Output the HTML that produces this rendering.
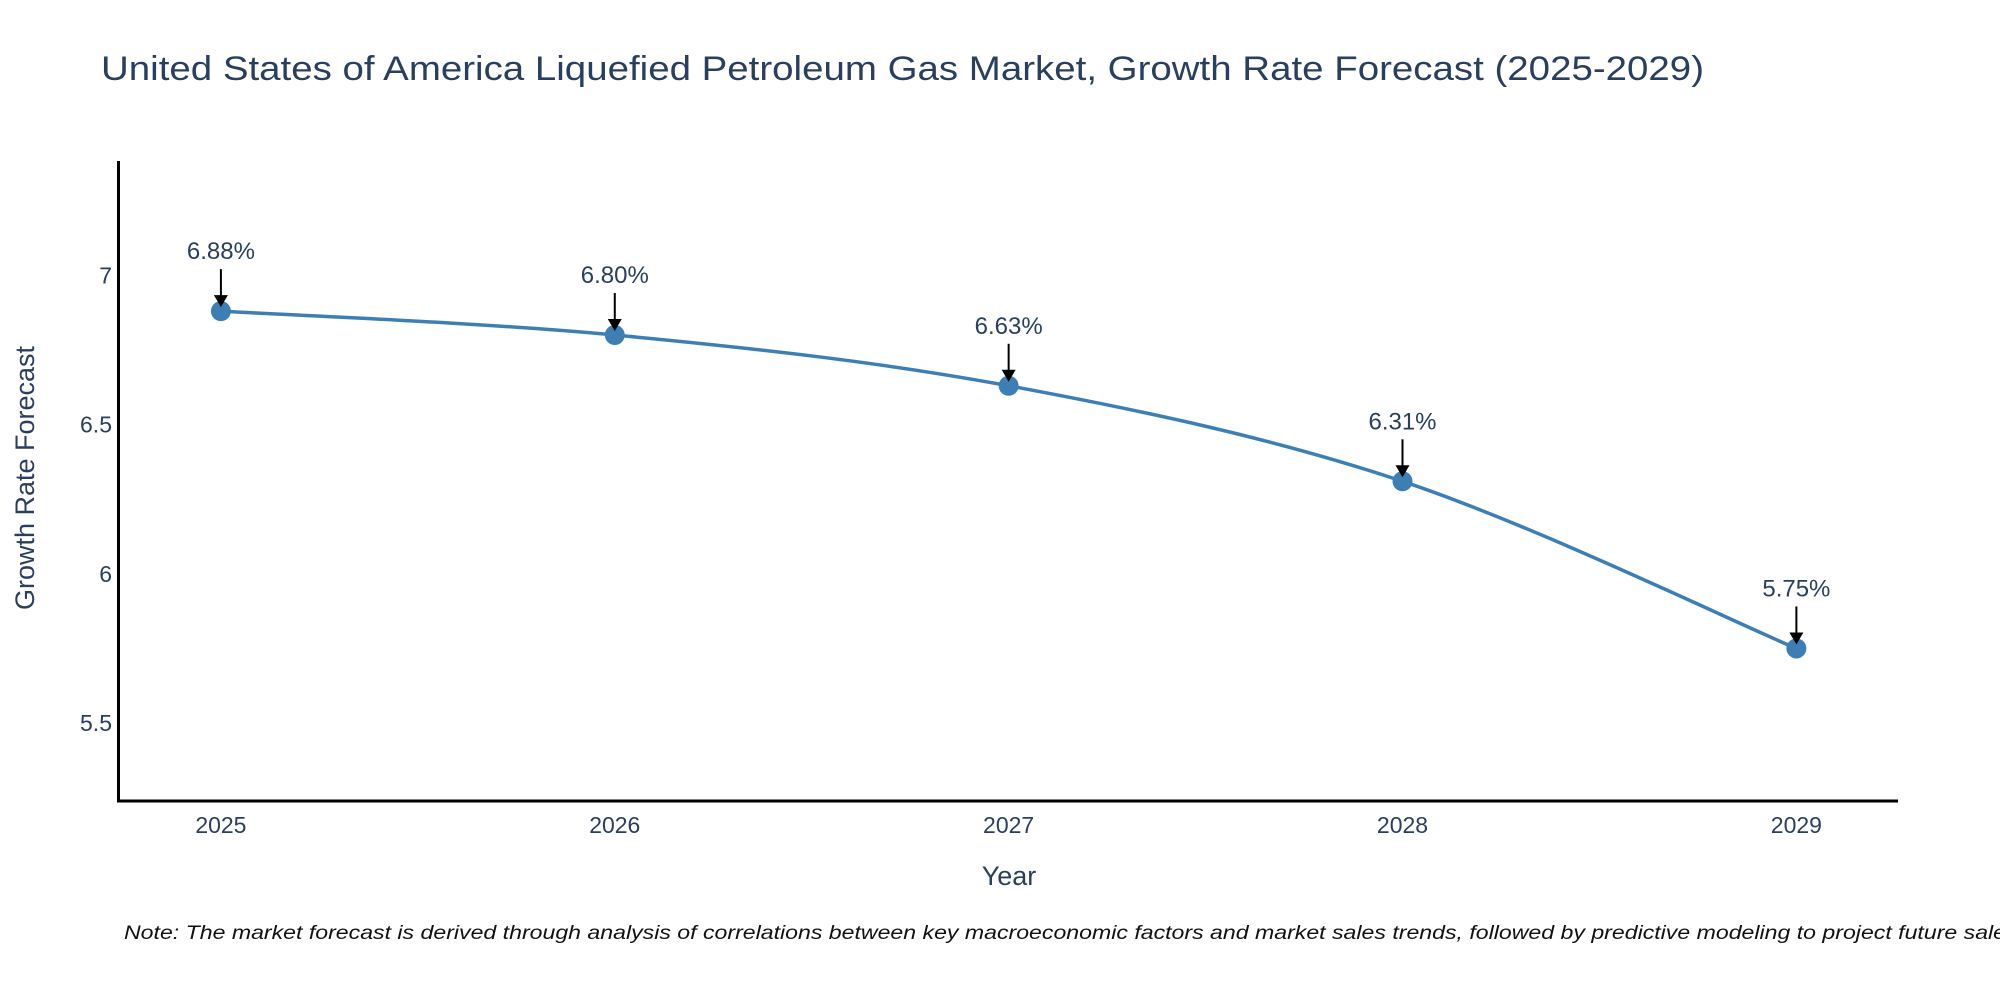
<!DOCTYPE html>
<html><head><meta charset="utf-8"><style>html,body{margin:0;padding:0;background:#fff;}svg{display:block;font-family:"Liberation Sans","DejaVu Sans",sans-serif;}</style></head>
<body>
<svg id="chart" width="2000" height="1000" viewBox="0 0 2000 1000" xmlns="http://www.w3.org/2000/svg">
<rect width="2000" height="1000" fill="#fff"/>
<text x="101" y="80" font-size="34" fill="#2a3f5f" textLength="1603" lengthAdjust="spacingAndGlyphs">United States of America Liquefied Petroleum Gas Market, Growth Rate Forecast (2025-2029)</text>
<g id="plot"></g>
<text transform="translate(34,478) rotate(-90)" text-anchor="middle" font-size="27" fill="#2a3f5f">Growth Rate Forecast</text>
<text x="1009" y="885" text-anchor="middle" font-size="27" fill="#2a3f5f">Year</text>
<text x="124" y="939" font-size="19" font-style="italic" fill="#111" textLength="1900" lengthAdjust="spacingAndGlyphs">Note: The market forecast is derived through analysis of correlations between key macroeconomic factors and market sales trends, followed by predictive modeling to project future sales.</text>
</svg>
<script>
const years = [2025, 2026, 2027, 2028, 2029];
const growthValues = [6.88, 6.80, 6.63, 6.31, 5.75];
const valueLabels = ["6.88%", "6.80%", "6.63%", "6.31%", "5.75%"];
const yTickValues = [5.5, 6, 6.5, 7];
const yTickLabels = ["5.5", "6", "6.5", "7"];

const NS = "http://www.w3.org/2000/svg";
const plotG = document.getElementById("plot");
const plotLeft = 118.5, plotRight = 1898, plotTop = 161, plotBottom = 801;
const xMin = 2024.74, xMax = 2029.258;
const yMin = 5.239, yMax = 7.383;
function xs(v){ return plotLeft + (v - xMin) / (xMax - xMin) * (plotRight - plotLeft); }
function ys(v){ return plotBottom - (v - yMin) / (yMax - yMin) * (plotBottom - plotTop); }
function mk(tag, attrs){ const e = document.createElementNS(NS, tag); for (const k in attrs) e.setAttribute(k, attrs[k]); plotG.appendChild(e); return e; }

yTickValues.forEach((v, i) => {
  const t = mk("text", {x: 112, y: ys(v) + 8, "text-anchor": "end", "font-size": "23", fill: "#2a3f5f"});
  
  
  t.textContent = yTickLabels[i];
});
years.forEach(y => {
  const t = mk("text", {x: xs(y), y: 833, "text-anchor": "middle", "font-size": "23", fill: "#2a3f5f"});
  
  
  t.textContent = String(y);
});
const ya = mk("line", {x1: plotLeft, y1: plotTop, x2: plotLeft, y2: plotBottom + 1.5, stroke: "#000", "stroke-width": "3"});


const xa = mk("line", {x1: plotLeft - 1.5, y1: plotBottom, x2: plotRight, y2: plotBottom, stroke: "#000", "stroke-width": "3"});



const pts = years.map((y, i) => [xs(y), ys(growthValues[i])]);
let d = "M" + pts[0][0] + "," + pts[0][1];
const s = 1/6;
for (let i = 0; i < pts.length - 1; i++) {
  const p0 = pts[Math.max(0, i - 1)], p1 = pts[i], p2 = pts[i + 1], p3 = pts[Math.min(pts.length - 1, i + 2)];
  const c1 = [p1[0] + (p2[0] - p0[0]) * s, p1[1] + (p2[1] - p0[1]) * s];
  const c2 = [p2[0] - (p3[0] - p1[0]) * s, p2[1] - (p3[1] - p1[1]) * s];
  d += " C" + c1[0] + "," + c1[1] + " " + c2[0] + "," + c2[1] + " " + p2[0] + "," + p2[1];
}
const line = mk("path", {d: d, fill: "none", stroke: "#3d7fb5", "stroke-width": "3.5"});



pts.forEach((p, i) => {
  const c = mk("circle", {cx: p[0], cy: p[1], r: 10, fill: "#3d7fb5"});
  
  
  const a = mk("line", {x1: p[0], y1: p[1] - 42, x2: p[0], y2: p[1] - 14, stroke: "#000", "stroke-width": "2"});
  
  
  const h = mk("path", {d: `M${p[0]-7},${p[1]-16} L${p[0]+7},${p[1]-16} L${p[0]},${p[1]-4} Z`, fill: "#000"});
  
  
  const t = mk("text", {x: p[0], y: p[1] - 52, "text-anchor": "middle", "font-size": "24", fill: "#2a3f5f"});
  
  
  t.textContent = valueLabels[i];
});
</script>
</body></html>
